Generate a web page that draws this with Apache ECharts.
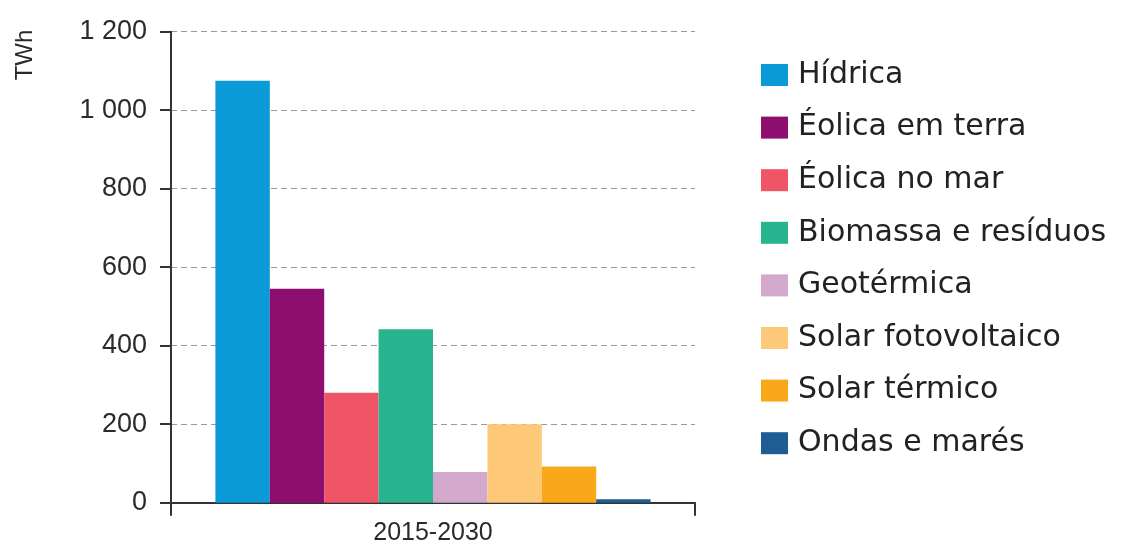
<!DOCTYPE html>
<html>
<head>
<meta charset="utf-8">
<script src="https://cdn.jsdelivr.net/npm/echarts@6/dist/echarts.min.js"></script>
<style>
  html, body { margin: 0; padding: 0; background: #ffffff; }
  #chart { width: 1123px; height: 548px; }
</style>
</head>
<body>
<div id="chart"></div>
<script>
// Period shown on the category axis
const categories = ['2015-2030'];

// Energy sources (one bar each) and their values in TWh
const sources = [
  'Hídrica',
  'Éolica em terra',
  'Éolica no mar',
  'Biomassa e resíduos',
  'Geotérmica',
  'Solar fotovoltaico',
  'Solar térmico',
  'Ondas e marés'
];
const values = [1075, 545, 280, 442, 78, 200, 92, 9];

// Bar colours, in the same order as the sources
const colors = ['#0a9ad8', '#8e0e6f', '#ef5566', '#27b48f', '#d2a9cd', '#fdc877', '#f9a81a', '#1e5d93'];

// Value axis ticks
const yMin = 0, yMax = 1200, yStep = 200;

const narrow = "'Liberation Sans Narrow', 'Liberation Sans', Arial, sans-serif";
const wide = "'DejaVu Sans', 'Liberation Sans', Arial, sans-serif";

// Thousands separated by a space: 1200 -> "1 200"
function fmt(v) {
  return String(v).replace(/\B(?=(\d{3})+(?!\d))/g, ' ');
}

const chart = echarts.init(document.getElementById('chart'), null, { renderer: 'canvas' });

const series = sources.map((name, i) => ({
  name: name,
  type: 'bar',
  data: [values[i]],
  barWidth: 54.4,
  barGap: '0%',
  itemStyle: { color: colors[i] },
  emphasis: { disabled: true }
}));

chart.setOption({
  animation: false,
  backgroundColor: '#ffffff',
  color: colors,
  grid: { left: 171, right: 428, top: 31.7, bottom: 45.3, containLabel: false },
  legend: {
    orient: 'vertical',
    left: 761,
    top: 60,
    padding: 0,
    itemWidth: 27,
    itemHeight: 22,
    itemGap: 22.6,
    icon: 'rect',
    selectedMode: false,
    data: sources,
    textStyle: {
      fontFamily: wide,
      fontSize: 30,
      lineHeight: 30,
      color: '#222222',
      padding: [0, 0, 0, 5]
    }
  },
  xAxis: {
    type: 'category',
    data: categories,
    boundaryGap: true,
    axisLine: { lineStyle: { color: '#333333', width: 2 } },
    axisTick: { show: true, length: 13, lineStyle: { color: '#333333', width: 2 } },
    axisLabel: {
      margin: 18,
      fontFamily: narrow,
      fontSize: 25,
      color: '#2a2a2a'
    },
    splitLine: { show: false }
  },
  yAxis: {
    type: 'value',
    min: yMin,
    max: yMax,
    interval: yStep,
    axisLine: { show: true, lineStyle: { color: '#333333', width: 2 } },
    axisTick: { show: true, length: 11, lineStyle: { color: '#333333', width: 2 } },
    axisLabel: {
      margin: 24,
      fontFamily: narrow,
      fontSize: 27,
      color: '#2a2a2a',
      formatter: fmt
    },
    splitLine: {
      show: true,
      lineStyle: { color: '#9a9a9a', width: 1.2, type: [6, 4] }
    }
  },
  graphic: [{
    type: 'text',
    x: 25,
    y: 55,
    rotation: Math.PI / 2,
    style: {
      text: 'TWh',
      fontFamily: narrow,
      fontSize: 24,
      fill: '#2a2a2a',
      align: 'center',
      verticalAlign: 'middle'
    }
  }],
  series: series
});
</script>
</body>
</html>
